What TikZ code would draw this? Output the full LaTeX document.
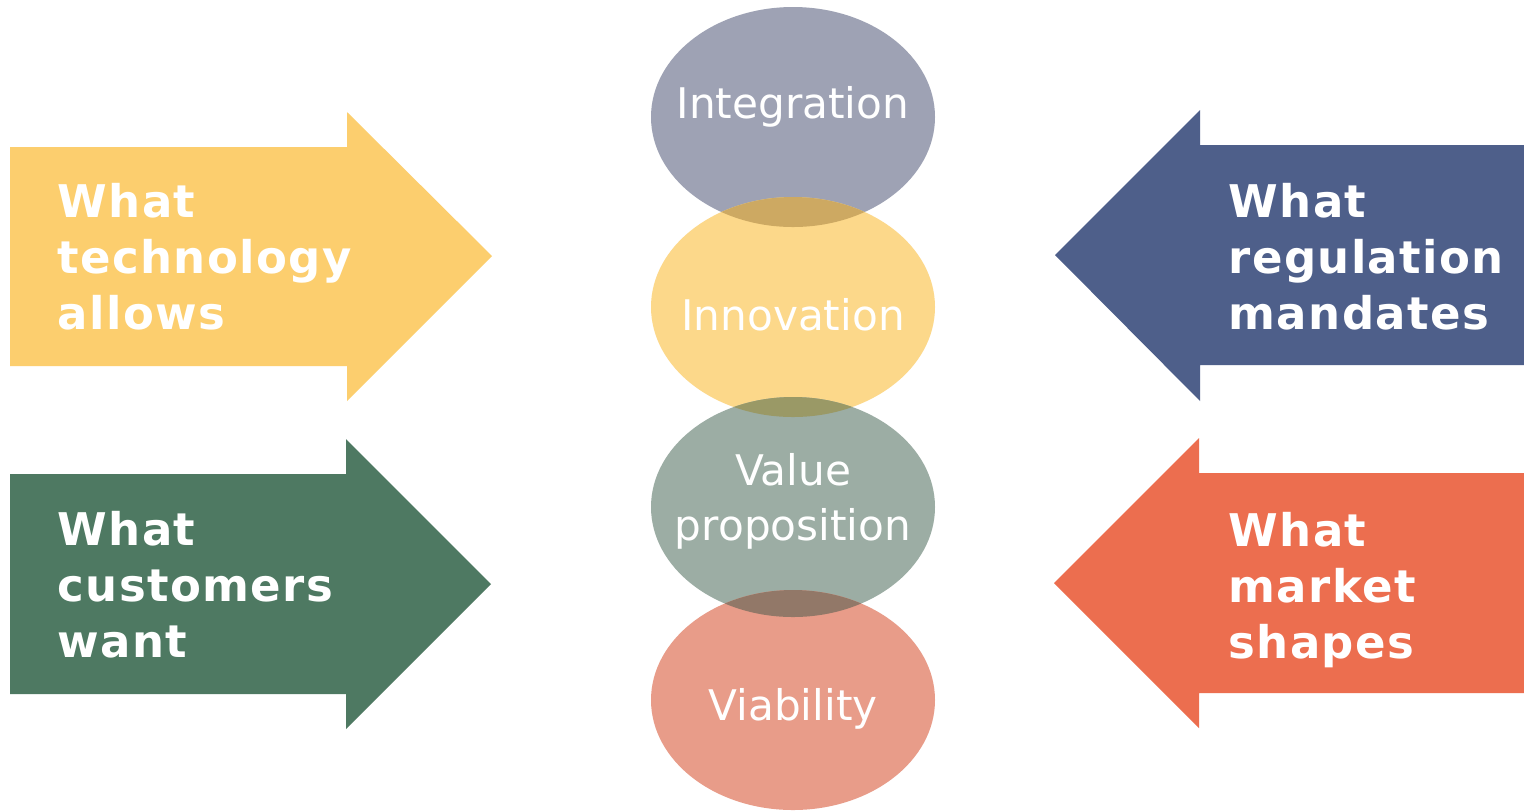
\documentclass[tikz,border=0pt]{standalone}
\usepackage{fontspec}
\setmainfont{DejaVu Sans}
\newfontfamily\widebold[LetterSpace=3.0]{DejaVu Sans Bold}
\usetikzlibrary{positioning}

\definecolor{techyellow}{HTML}{FCCE6E}
\definecolor{custgreen}{HTML}{4E7962}
\definecolor{regblue}{HTML}{4E5F8A}
\definecolor{mktorange}{HTML}{EC6E4F}
\definecolor{integgray}{HTML}{9EA2B4}
\definecolor{innoyellow}{HTML}{FCD88A}
\definecolor{valuegreen}{HTML}{9CADA4}
\definecolor{viabsalmon}{HTML}{E89C89}
\definecolor{lapone}{HTML}{CDA962}
\definecolor{laptwo}{HTML}{9A9966}
\definecolor{lapthree}{HTML}{927868}

\begin{document}
\begin{tikzpicture}
  [x=0.01cm, y=-0.01cm,
   bigword/.style={text=white, font=\widebold\fontsize{12.8}{15.9}\selectfont,
     align=left, anchor=west, inner sep=0pt},
   smallword/.style={text=white, font=\fontsize{12}{15.6}\selectfont,
     align=center, inner sep=0pt}]

  \useasboundingbox (0,0) rectangle (1524,811);
  \fill[white] (0,0) rectangle (1524,811);

  % arrows pushing towards the middle
  \fill[techyellow] (10,147) -- (347,147) -- (347,112) -- (492,256)
    -- (347,401) -- (347,366) -- (10,366) -- cycle;
  \fill[custgreen] (10,474) -- (346,474) -- (346,439) -- (491,584)
    -- (346,729) -- (346,694) -- (10,694) -- cycle;
  \fill[regblue] (1524,145) -- (1200,145) -- (1200,110) -- (1055,255)
    -- (1200,401) -- (1200,365) -- (1524,365) -- cycle;
  \fill[mktorange] (1524,473) -- (1199,473) -- (1199,438) -- (1054,583)
    -- (1199,728) -- (1199,693) -- (1524,693) -- cycle;

  % stack of ellipses
  \fill[integgray]  (793,117) ellipse [x radius=142, y radius=110];
  \fill[innoyellow] (793,307) ellipse [x radius=142, y radius=110];
  \fill[valuegreen] (793,507) ellipse [x radius=142, y radius=110];
  \fill[viabsalmon] (793,700) ellipse [x radius=142, y radius=110];

  % overlaps
  \begin{scope}
    \clip (793,117) ellipse [x radius=142, y radius=110];
    \fill[lapone] (793,307) ellipse [x radius=142, y radius=110];
  \end{scope}
  \begin{scope}
    \clip (793,307) ellipse [x radius=142, y radius=110];
    \fill[laptwo] (793,507) ellipse [x radius=142, y radius=110];
  \end{scope}
  \begin{scope}
    \clip (793,507) ellipse [x radius=142, y radius=110];
    \fill[lapthree] (793,700) ellipse [x radius=142, y radius=110];
  \end{scope}

  \node[smallword, anchor=base] (integ) at (793,118) {Integration};
  \node[smallword, anchor=base] (inno)  at (793,330) {Innovation};
  \node[smallword] (value) at (793,501) {Value\\proposition};
  \node[smallword, anchor=base] (viab)  at (793,720) {Viability};

  \node[bigword] (tech) at (57,257) {What\\technology\\allows};
  \node[bigword] (cust) at (57,585) {What\\customers\\want};
  \node[bigword] (reg)  at (1228,257) {What\\regulation\\mandates};
  \node[bigword] (mkt)  at (1228,590) {What\\market\\shapes};
\end{tikzpicture}
\end{document}
